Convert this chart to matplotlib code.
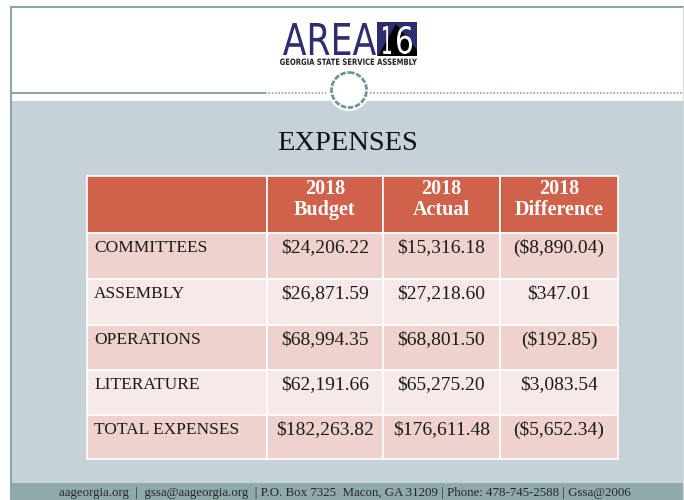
import matplotlib.pyplot as plt
import matplotlib.transforms as mtransforms
from matplotlib.patches import Rectangle, Circle, PathPatch, Polygon
from matplotlib.textpath import TextPath
from matplotlib.font_manager import FontProperties

# table data
row_labels = ["COMMITTEES", "ASSEMBLY", "OPERATIONS", "LITERATURE", "TOTAL EXPENSES"]
col_headers = ["", "2018\nBudget", "2018\nActual", "2018\nDifference"]
budget = [24206.22, 26871.59, 68994.35, 62191.66, 182263.82]
actual = [15316.18, 27218.60, 68801.50, 65275.20, 176611.48]
difference = [-8890.04, 347.01, -192.85, 3083.54, -5652.34]

title = "EXPENSES"
footer = ("aageorgia.org  |  gssa@aageorgia.org  | P.O. Box 7325  Macon, GA 31209 "
          "| Phone: 478-745-2588 | Gssa@2006")

# colours
header_c = "#D0614A"
row_c = ["#EFD2CD", "#F7E9E7"]
band_c = "#C6D2D8"
footer_c = "#8FAAA9"
line_c = "#8FA6A6"
navy = "#2E2D6E"
serif = "Liberation Serif"


def money(v):
    s = "${:,.2f}".format(abs(v))
    return "(" + s + ")" if v < 0 else s


def fit_text(ax, s, x0, y0, x1, y1, prop, color):
    # draw text as a path stretched into the box (x0,y0)-(x1,y1)
    tp = TextPath((0, 0), s, size=10, prop=prop)
    bb = tp.get_extents()
    sx = (x1 - x0) / bb.width
    sy = (y1 - y0) / bb.height
    tr = mtransforms.Affine2D().translate(-bb.x0, -bb.y0).scale(sx, -sy).translate(x0, y1)
    ax.add_patch(PathPatch(tr.transform_path(tp), fc=color, ec="none", lw=0))


fig = plt.figure(figsize=(6.84, 5.0), dpi=100)
ax = fig.add_axes([0, 0, 1, 1])
ax.set_xlim(0, 684)
ax.set_ylim(500, 0)
ax.axis("off")

# slide frame
ax.add_patch(Rectangle((11, 101), 673, 382, fc=band_c, ec="none"))
ax.add_patch(Rectangle((11, 483), 673, 17, fc=footer_c, ec="none"))
ax.plot([11, 684], [7, 7], color=line_c, lw=1.5)
ax.plot([11, 11], [7, 500], color=line_c, lw=1.5)
ax.plot([683, 683], [7, 500], color="#D5DCDC", lw=0.8)

# divider with circle
ax.plot([11, 265], [92.5, 92.5], color=line_c, lw=1.5)
ax.plot([265, 326], [92.5, 92.5], color=line_c, lw=1.2, ls=(0, (1, 1)))
ax.plot([370, 683], [92.5, 92.5], color=line_c, lw=1.2, ls=(0, (1, 1)))
ax.add_patch(Circle((349, 90), 21, fc="white", ec="none"))
ax.add_patch(Circle((349, 90), 17.5, fc="none", ec="#6F9696", lw=2.0, ls=(0, (2, 0.6))))

# logo
logo_font = FontProperties(family="DejaVu Sans", weight="normal")
fit_text(ax, "AREA", 283, 23, 376, 55, logo_font, navy)
ax.add_patch(Rectangle((377, 22), 40, 34, fc=navy, ec="none"))
ax.add_patch(Polygon([(378, 56), (396, 24), (417, 50), (417, 56)], fc="black", ec="none"))
fit_text(ax, "1", 383, 26, 391, 54, logo_font, "white")
fit_text(ax, "6", 397, 26, 412, 54, logo_font, "white")
fit_text(ax, "GEORGIA STATE SERVICE ASSEMBLY", 280, 58.5, 417, 65,
         FontProperties(family="DejaVu Sans", weight="bold"), "#222222")

# title
ax.text(348, 143, title, ha="center", va="center", fontsize=20.5, family=serif, color="#111111")

# table
col_edges = [87, 267, 383, 500, 618]
row_edges = [176, 233, 279, 325, 370, 415, 459]
columns = [row_labels, [money(v) for v in budget], [money(v) for v in actual],
           [money(v) for v in difference]]

for j in range(4):
    x0, x1 = col_edges[j], col_edges[j + 1]
    ax.add_patch(Rectangle((x0, row_edges[0]), x1 - x0, row_edges[1] - row_edges[0],
                           fc=header_c, ec="white", lw=1.2))
    if col_headers[j]:
        top, bottom = col_headers[j].split("\n")
        xc = (x0 + x1) / 2
        ax.text(xc, 189, top, ha="center", va="center", fontsize=14.5, weight="bold",
                family=serif, color="white")
        ax.text(xc, 210, bottom, ha="center", va="center", fontsize=14.5, weight="bold",
                family=serif, color="white")
    for i in range(len(row_labels)):
        y0, y1 = row_edges[i + 1], row_edges[i + 2]
        ax.add_patch(Rectangle((x0, y0), x1 - x0, y1 - y0, fc=row_c[i % 2], ec="white", lw=1.2))
        if j == 0:
            ax.text(x0 + 7, y0 + 15, columns[j][i], ha="left", va="center", fontsize=12.5,
                    family=serif, color="#1A1A1A")
        else:
            ax.text((x0 + x1) / 2, y0 + 15, columns[j][i], ha="center", va="center",
                    fontsize=14, family=serif, color="#1A1A1A")

# footer
ax.text(345, 493, footer, ha="center", va="center", fontsize=9.3, family=serif, color="#1E2A2A")

fig.savefig("out.png", dpi=100)
